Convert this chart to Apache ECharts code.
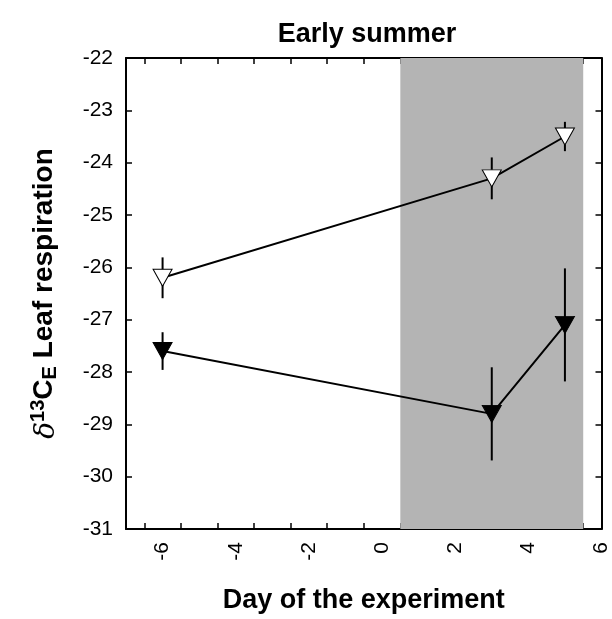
<!DOCTYPE html>
<html>
<head>
<meta charset="utf-8">
<script src="https://cdn.jsdelivr.net/npm/echarts@6/dist/echarts.min.js"></script>
<style>
  html, body { margin: 0; padding: 0; background: #fff; }
  #chart { width: 612px; height: 619px; }
</style>
</head>
<body>
<div id="chart"></div>
<script>
// Days of the experiment at which leaf respiration was sampled
const days = [-6, 3, 5];

// Open triangles: mean and error
const openMean = [-26.2, -24.3, -23.5];
const openErr = [0.39, 0.40, 0.28];

// Filled triangles: mean and error
const filledMean = [-27.6, -28.8, -27.1];
const filledErr = [0.36, 0.89, 1.08];

// Treatment period (shaded band)
const shadeStart = 0.5;
const shadeEnd = 5.5;

// Axis ticks and labels
const xTickValues = [-6.5, -5.5, -4.5, -3.5, -2.5, -1.5, -0.5, 0.5, 1.5, 2.5, 3.5, 4.5, 5.5];
const xLabelValues = [-6, -4, -2, 0, 2, 4, 6];

const FONT = '"Liberation Sans", Arial, sans-serif';

function pairs(xs, ys) { return xs.map((x, i) => [x, ys[i]]); }
function errRows(xs, ys, es) { return xs.map((x, i) => [x, ys[i] - es[i], ys[i] + es[i]]); }

function errorSeries(rows) {
  return {
    type: 'custom',
    z: 2,
    silent: true,
    data: rows,
    renderItem: function (params, api) {
      const p1 = api.coord([api.value(0), api.value(1)]);
      const p2 = api.coord([api.value(0), api.value(2)]);
      return {
        type: 'line',
        shape: { x1: p1[0], y1: p1[1], x2: p2[0], y2: p2[1] },
        style: { stroke: '#000', lineWidth: 2 }
      };
    }
  };
}

const axisLine = { show: true, onZero: false, lineStyle: { color: '#000', width: 2 } };
const tickStyle = { color: '#000', width: 1.5 };

const chart = echarts.init(document.getElementById('chart'), null, { renderer: 'canvas' });

chart.setOption({
  animation: false,
  backgroundColor: '#fff',
  title: {
    text: 'Early summer',
    left: 362,
    top: 16,
    textAlign: 'center',
    textStyle: { fontFamily: FONT, fontWeight: 'bold', fontSize: 27, color: '#000' }
  },
  grid: { left: 126, right: 8, top: 58, bottom: 83 },
  xAxis: [{
    type: 'value',
    min: -7, max: 6,
    position: 'bottom',
    axisLine: axisLine,
    splitLine: { show: false },
    axisTick: { show: true, inside: true, length: 6, lineStyle: tickStyle, customValues: xTickValues },
    axisLabel: {
      customValues: xLabelValues,
      rotate: 90, margin: 13,
      fontFamily: FONT, fontSize: 21, color: '#000'
    },
    name: 'Day of the experiment',
    nameLocation: 'middle',
    nameGap: 58,
    nameTextStyle: { fontFamily: FONT, fontWeight: 'bold', fontSize: 27, color: '#000' }
  }, {
    type: 'value',
    min: -7, max: 6,
    position: 'top',
    axisLine: axisLine,
    splitLine: { show: false },
    axisTick: { show: true, inside: true, length: 6, lineStyle: tickStyle, customValues: xTickValues },
    axisLabel: { show: false }
  }],
  yAxis: [{
    type: 'value',
    min: -31, max: -22, interval: 1,
    position: 'left',
    axisLine: axisLine,
    splitLine: { show: false },
    axisTick: { show: true, inside: true, length: 6, lineStyle: tickStyle },
    axisLabel: { margin: 13, fontFamily: FONT, fontSize: 21, color: '#000' },
    name: '{d|δ}{sup|13}{c|C}{sub|E}{c| Leaf respiration}',
    nameLocation: 'middle',
    nameRotate: 90,
    nameGap: 65,
    nameTextStyle: {
      color: '#000',
      rich: {
        d: { fontFamily: '"DejaVu Serif", serif', fontStyle: 'italic', fontSize: 28, color: '#000', verticalAlign: 'bottom' },
        sup: { fontFamily: FONT, fontWeight: 'bold', fontSize: 20, color: '#000', verticalAlign: 'top', padding: [0, 0, 13, 0] },
        c: { fontFamily: FONT, fontWeight: 'bold', fontSize: 28, color: '#000' },
        sub: { fontFamily: FONT, fontWeight: 'bold', fontSize: 20, color: '#000', padding: [11, 0, 0, 0] }
      }
    }
  }, {
    type: 'value',
    min: -31, max: -22, interval: 1,
    position: 'right',
    axisLine: axisLine,
    splitLine: { show: false },
    axisTick: { show: true, inside: true, length: 6, lineStyle: tickStyle },
    axisLabel: { show: false }
  }],
  series: [
    {
      // shaded treatment period
      type: 'line',
      data: [],
      silent: true,
      markArea: {
        silent: true,
        itemStyle: { color: '#b4b4b4' },
        data: [[{ xAxis: shadeStart }, { xAxis: shadeEnd }]]
      },
      z: 1
    },
    errorSeries(errRows(days, openMean, openErr)),
    errorSeries(errRows(days, filledMean, filledErr)),
    {
      type: 'line',
      data: pairs(days, openMean),
      z: 3,
      symbol: 'triangle',
      symbolRotate: 180,
      symbolSize: [19, 17],
      lineStyle: { color: '#000', width: 2 },
      itemStyle: { color: '#fff', borderColor: '#000', borderWidth: 1 }
    },
    {
      type: 'line',
      data: pairs(days, filledMean),
      z: 3,
      symbol: 'triangle',
      symbolRotate: 180,
      symbolSize: [19, 17],
      lineStyle: { color: '#000', width: 2 },
      itemStyle: { color: '#000', borderColor: '#000', borderWidth: 1 }
    }
  ]
});
</script>
</body>
</html>
